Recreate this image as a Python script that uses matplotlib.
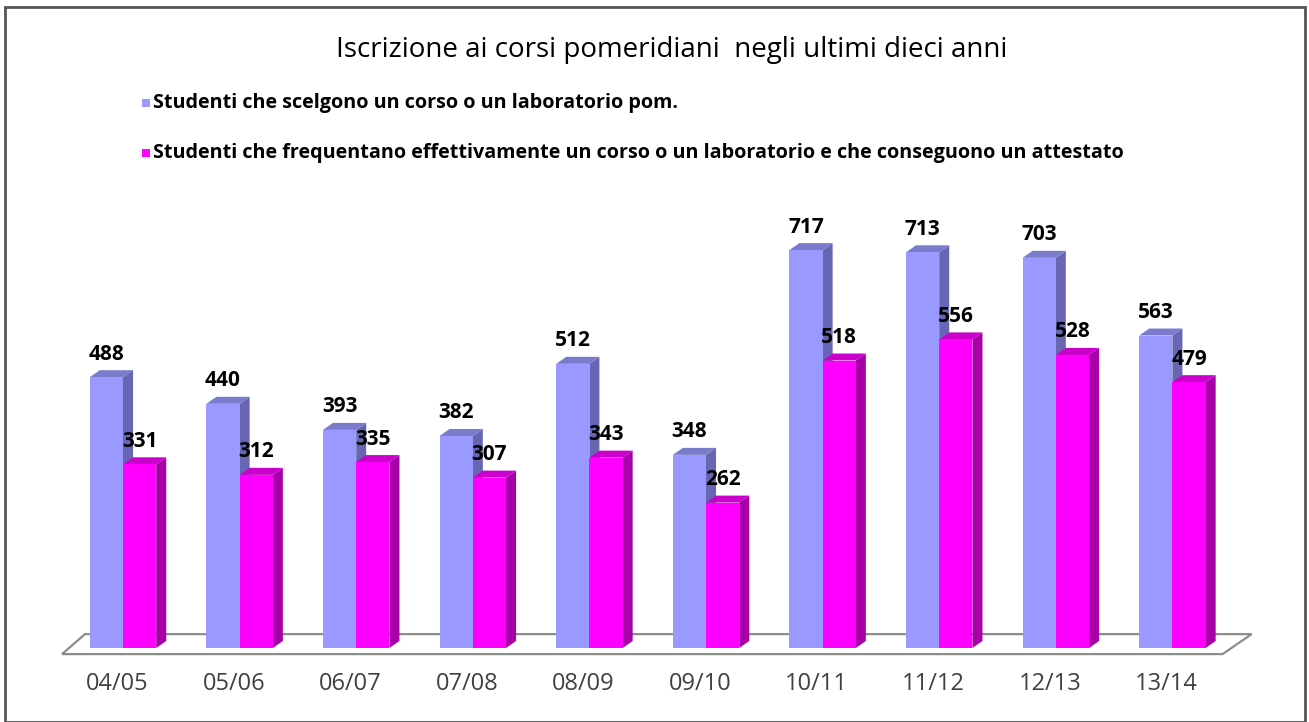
import matplotlib.pyplot as plt
from matplotlib.patches import Polygon, Rectangle

# Iscrizioni ai corsi pomeridiani (Excel-style 3D columns)
anni = ["04/05", "05/06", "06/07", "07/08", "08/09", "09/10", "10/11", "11/12", "12/13", "13/14"]
scelgono = [488, 440, 393, 382, 512, 348, 717, 713, 703, 563]
attestato = [331, 312, 335, 307, 343, 262, 518, 556, 528, 479]

serie1 = "Studenti che scelgono un corso o un laboratorio pom."
serie2 = "Studenti che frequentano effettivamente un corso o un laboratorio e che conseguono un attestato"

plt.rcParams['font.family'] = ['Open Sans', 'DejaVu Sans']

fig = plt.figure(figsize=(13.09, 7.22), dpi=100)
fig.patches.append(Rectangle((0.004, 0.0), 0.993, 0.99, transform=fig.transFigure,
                             fill=False, edgecolor='#555555', linewidth=2))

ax = fig.add_axes([64.7 / 1309, 74 / 722, 1166 / 1309, 444 / 722])
ax.set_xlim(-0.5, 9.5)
ax.set_ylim(0, 800)
ax.axis('off')

w = 0.285        # larghezza barra
dx, dy = 0.086, 12.6   # profondita' 3D in unita' dati

def barra3d(x0, h, front, side, top):
    ax.bar(x0, h, width=w, align='edge', color=front, zorder=3)
    ax.add_patch(Polygon([(x0 + w, 0), (x0 + w + dx, dy), (x0 + w + dx, h + dy), (x0 + w, h)],
                         closed=True, facecolor=side, edgecolor='none', zorder=2))
    ax.add_patch(Polygon([(x0, h), (x0 + dx, h + dy), (x0 + w + dx, h + dy), (x0 + w, h)],
                         closed=True, facecolor=top, edgecolor='none', zorder=2))

# pavimento
ax.add_patch(Polygon([(-0.523, -11), (9.43, -11), (9.68, 25), (-0.326, 25)], closed=True,
                     facecolor='white', edgecolor='#8c8c8c', linewidth=1.6, zorder=1, clip_on=False))

for i in range(len(anni)):
    xb = i - w
    barra3d(xb, scelgono[i], '#9999ff', '#6666b3', '#7b7bcc')
    barra3d(i, attestato[i], '#ff00ff', '#a800a8', '#cc00cc')
    ax.annotate(str(scelgono[i]), (xb + w / 2, scelgono[i]), xytext=(0, 9),
                textcoords='offset points', ha='center', va='bottom',
                fontsize=15, fontweight='bold', color='black', zorder=5)
    ax.annotate(str(attestato[i]), (i + w / 2, attestato[i]), xytext=(0, 9),
                textcoords='offset points', ha='center', va='bottom',
                fontsize=15, fontweight='bold', color='black', zorder=5)
    ax.text(i - 0.05, -65, anni[i], ha='center', va='center', fontsize=17, color='#404040')

fig.text(672 / 1309, 1 - 50 / 722, "Iscrizione ai corsi pomeridiani  negli ultimi dieci anni",
         ha='center', va='center', fontsize=20, color='black')

# legenda
for yy, col, lab in [(103, '#9999ff', serie1), (153, '#ff00ff', serie2)]:
    fig.patches.append(Rectangle((142 / 1309, 1 - (yy + 4) / 722), 8 / 1309, 8 / 722,
                                 transform=fig.transFigure, facecolor=col, edgecolor='none'))
    fig.text(153 / 1309, 1 - yy / 722, lab, ha='left', va='center', fontsize=14.2,
             fontweight='bold', color='black')

fig.savefig("out.png", dpi=100)
